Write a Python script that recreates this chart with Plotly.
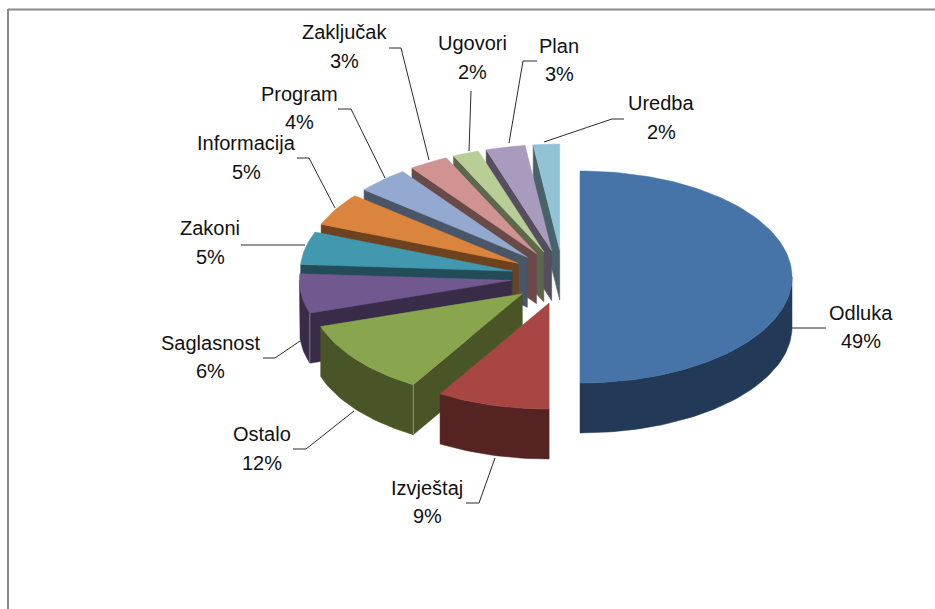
import math
import plotly.graph_objects as go

# ---- data ----
categories = ["Odluka", "Izvještaj", "Ostalo", "Saglasnost", "Zakoni", "Informacija",
              "Program", "Zaključak", "Ugovori", "Plan", "Uredba"]
percent_labels = ["49%", "9%", "12%", "6%", "5%", "5%", "4%", "3%", "2%", "3%", "2%"]
shares = [50, 8.6, 11.4, 6, 5, 5, 4, 3, 2, 3, 2]

# ---- styling ----
top_colors = ["#4674A8", "#A84644", "#89A54E", "#71588F", "#4198AF", "#DB843D",
              "#93A9CF", "#D19392", "#B9CD96", "#A99BBD", "#92C3D4"]
side_colors = ["#223A58", "#542322", "#4A5527", "#392C48", "#214C58", "#6E421F",
               "#4A5568", "#694A49", "#5D674B", "#554E5F", "#49626A"]

# ---- pie geometry (pixels of the 935x609 page) ----
CX, CY = 563, 277
RX, RY = 212, 106
DEPTH = 50
PULL_X, PULL_Y = 52, 27
PULL_SCALE = [17 / 52, 1, 1, 1, 1, 1, 1, 1, 1, 1, 1]


def pt(ax, ay, deg, dz=0):
    r = math.radians(deg)
    return ax + RX * math.sin(r), ay - RY * math.cos(r) + dz


def arc(ax, ay, a0, a1, dz=0):
    n = max(2, int(abs(a1 - a0) / 1.5) + 1)
    return [pt(ax, ay, a0 + (a1 - a0) * i / (n - 1), dz) for i in range(n)]


def poly(fig, points, color, name):
    xs = [p[0] for p in points] + [points[0][0]]
    ys = [p[1] for p in points] + [points[0][1]]
    fig.add_trace(go.Scatter(x=xs, y=ys, mode="lines", fill="toself", fillcolor=color,
                             line=dict(color=color, width=0.5), name=name,
                             hoverinfo="skip", showlegend=False))


fig = go.Figure()

total = sum(shares)
slices = []
acc = 0.0
for i, s in enumerate(shares):
    a0 = acc / total * 360
    acc += s
    a1 = acc / total * 360
    mid = math.radians((a0 + a1) / 2)
    ax = CX + PULL_X * PULL_SCALE[i] * math.sin(mid)
    ay = CY - PULL_Y * math.cos(mid)
    slices.append((math.cos(mid), i, a0, a1, ax, ay))

# painter's order: back slices first
for _, i, a0, a1, ax, ay in sorted(slices, key=lambda t: -t[0]):
    name = categories[i]
    side, top = side_colors[i], top_colors[i]
    # radial wall facing the viewer
    if 180 < a0 < 360:
        p = pt(ax, ay, a0)
        poly(fig, [(ax, ay), p, (p[0], p[1] + DEPTH), (ax, ay + DEPTH)], side, name)
    if 0 < a1 < 180:
        p = pt(ax, ay, a1)
        poly(fig, [(ax, ay), p, (p[0], p[1] + DEPTH), (ax, ay + DEPTH)], side, name)
    # outer wall: front half of the rim only
    f0, f1 = max(a0, 90), min(a1, 270)
    if f1 > f0:
        poly(fig, arc(ax, ay, f0, f1) + arc(ax, ay, f1, f0, DEPTH), side, name)
    # pale highlight on the front corner where two walls meet
    if 180 < a0 < 270:
        p = pt(ax, ay, a0)
        fig.add_trace(go.Scatter(x=[p[0], p[0]], y=[p[1], p[1] + DEPTH], mode="lines",
                                 line=dict(color="rgba(255,255,255,0.35)", width=1),
                                 hoverinfo="skip", showlegend=False))
    # top face
    poly(fig, [(ax, ay)] + arc(ax, ay, a0, a1), top, name)

# ---- leader lines ----
leaders = [
    [(792, 328), (826, 328)],
    [(466, 503), (479, 503), (495, 458)],
    [(293, 449), (306, 449), (354, 411)],
    [(263, 358), (275, 358), (300, 341)],
    [(241, 245), (305, 245)],
    [(297, 158), (309, 158), (335, 208)],
    [(338, 109), (351, 109), (385, 178)],
    [(389, 48), (401, 48), (429, 160)],
    [(471, 91), (469, 151)],
    [(537, 61), (523, 61), (509, 143)],
    [(624, 119), (612, 119), (544, 142)],
]
for path in leaders:
    fig.add_trace(go.Scatter(x=[p[0] for p in path], y=[p[1] for p in path], mode="lines",
                             line=dict(color="#2b2b2b", width=1), hoverinfo="skip",
                             showlegend=False))

# ---- labels: x centre, name line y, percent line y ----
label_pos = [
    (861, 313, 341), (427, 488, 516), (262, 434, 463), (210, 343, 371),
    (210, 228, 257), (246, 143, 172), (299, 94, 122), (344, 32, 61),
    (472, 43, 72), (559, 46, 74), (661, 103, 132),
]
annotations = []
for (x, y1, y2), cat, pct in zip(label_pos, categories, percent_labels):
    for y, t in ((y1, cat), (y2, pct)):
        annotations.append(dict(x=x, y=y, xref="x", yref="y", text=t, showarrow=False,
                                xanchor="center", yanchor="middle",
                                font=dict(family="Liberation Sans, Arial, sans-serif",
                                          size=20, color="#111111")))

# ---- outer frame (only top and left edges show) ----
shapes = [
    dict(type="line", xref="x", yref="y", x0=8, y0=9.5, x1=935, y1=9.5,
         line=dict(color="#8a8a8a", width=2)),
    dict(type="line", xref="x", yref="y", x0=8, y0=9, x1=8, y1=609,
         line=dict(color="#8a8a8a", width=2)),
]

fig.update_layout(
    width=935, height=609, autosize=False,
    margin=dict(l=0, r=0, t=0, b=0),
    paper_bgcolor="white", plot_bgcolor="white",
    xaxis=dict(range=[0, 935], visible=False, fixedrange=True),
    yaxis=dict(range=[609, 0], visible=False, fixedrange=True),
    annotations=annotations, shapes=shapes,
)
fig.write_html("out.html", config={"displayModeBar": False},
               post_script="document.body.style.margin='0';document.body.style.overflow='hidden';")
